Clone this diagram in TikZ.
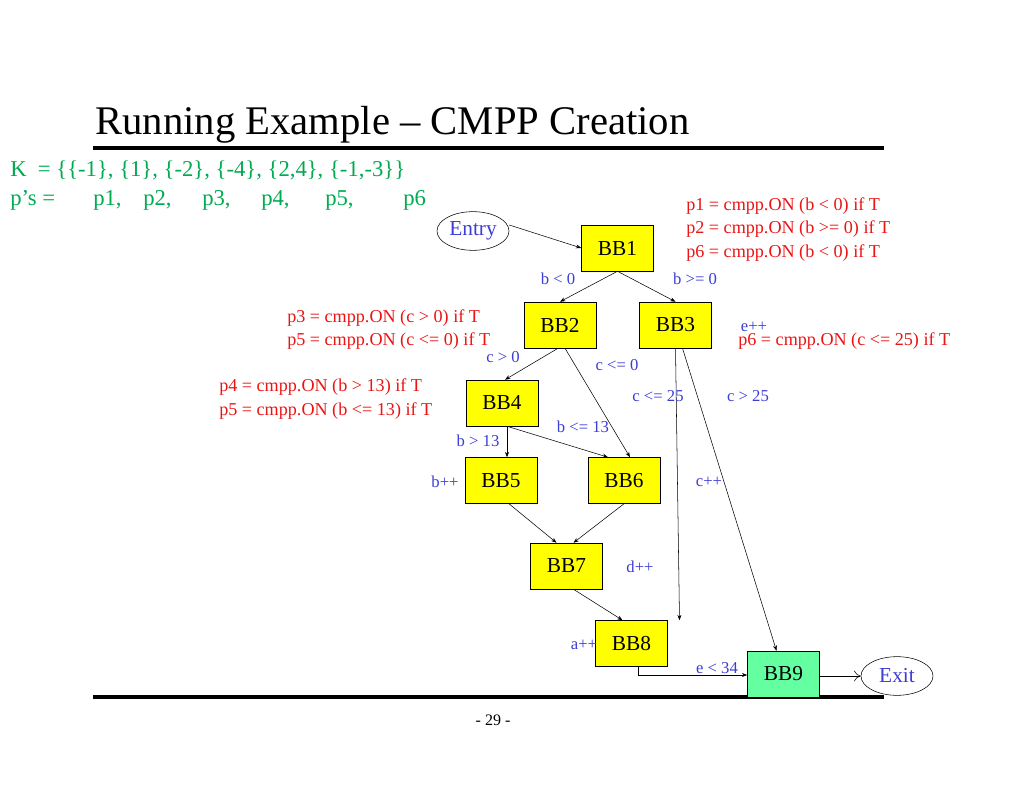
\documentclass[tikz,border=0pt]{standalone}
\usepackage{fontspec}
\setmainfont{Liberation Serif}
\usetikzlibrary{shapes.geometric,arrows.meta,calc}
\definecolor{tgreen}{RGB}{0,170,80}
\definecolor{tred}{RGB}{235,20,20}
\definecolor{tblue}{RGB}{60,60,215}
\definecolor{bbyellow}{RGB}{255,255,0}
\definecolor{bbgreen}{RGB}{100,255,160}
\tikzset{
  bb/.style={draw,fill=bbyellow,minimum width=54pt,minimum height=34.5pt,inner sep=0pt,font=\fontsize{16}{16}\selectfont},
  term/.style={draw,ellipse,minimum width=54pt,minimum height=29pt,inner sep=0pt,text=tblue,font=\fontsize{16}{16}\selectfont},
  lbl/.style={text=tblue,font=\fontsize{12.5}{12.5}\selectfont,inner sep=0pt},
  red/.style={text=tred,font=\fontsize{13.6}{13.6}\selectfont,inner sep=0pt,anchor=west},
  grn/.style={text=tgreen,font=\fontsize{17}{17}\selectfont,inner sep=0pt,anchor=west},
  edge/.style={-{Stealth[length=4pt,width=3pt]},thin}
}
\begin{document}
\begin{tikzpicture}[x=0.75pt,y=-0.75pt]
\useasboundingbox (0,0) rectangle (1024,791);
\node[anchor=base west,inner sep=0pt,font=\fontsize{30.5}{30.5}\selectfont] (title) at (95,135) {Running Example – CMPP Creation};
\draw[line width=3pt] (93,148) -- (884,148);
\draw[line width=3pt] (93,697) -- (884,697);
\node[inner sep=0pt,font=\fontsize{12}{12}\selectfont] (pg) at (493,720) {- 29 -};
\node[grn] (K) at (10,170) {K\ \ = \{\{-1\}, \{1\}, \{-2\}, \{-4\}, \{2,4\}, \{-1,-3\}\}};
\node[grn] (ps) at (10,200) {p’s =};
\node[grn] (q1) at (93,200) {p1,};
\node[grn] (q2) at (143,200) {p2,};
\node[grn] (q3) at (202,200) {p3,};
\node[grn] (q4) at (261,200) {p4,};
\node[grn] (q5) at (325,200) {p5,};
\node[grn] (q6) at (403,200) {p6};

\node[bb] (BB1) at (617.5,248) {BB1};
\node[bb] (BB2) at (560,325) {BB2};
\node[bb] (BB3) at (675.5,325) {BB3};
\node[bb] (BB4) at (502,403) {BB4};
\node[bb] (BB5) at (501,480.5) {BB5};
\node[bb] (BB6) at (624,480.5) {BB6};
\node[bb] (BB7) at (566.5,566) {BB7};
\node[bb] (BB8) at (631.5,643.5) {BB8};
\node[bb,fill=bbgreen] (BB9) at (783.5,674) {BB9};
\node[term] (Entry) at (473,231) {Entry};
\node[term] (Exit) at (897,676) {Exit};

\coordinate (c8) at (638,675);
\draw[edge] (Entry.east) ++(0,-6) -- (BB1.west |- 0,248);
\draw[edge] (BB1.south) -- (BB2.north);
\draw[edge] (BB1.south) -- (BB3.north);
\draw[edge] (BB2.south) ++(-2,0) -- ($(BB4.north)+(3,0)$);
\draw[edge] (BB2.south) ++(5,0) -- ($(BB6.north)+(6,0)$);
\draw[edge] (BB4.south) ++(5,0) -- ($(BB5.north)+(6,0)$);
\draw[edge] (BB4.south) ++(5,0) -- ($(BB6.north)-(16,0)$);
\draw[edge] (BB3.south) ++(0,0) -- ($(BB8.north)+(48,0)$);
\draw[edge] (BB3.south) ++(7,0) -- ($(BB9.north)-(7,0)$);
\draw[edge] (BB5.south) ++(8,0) -- ($(BB7.north)-(10,0)$);
\draw[edge] (BB6.south) -- ($(BB7.north)+(7,0)$);
\draw[edge] (BB7.south) ++(7,0) -- ($(BB8.north)-(9,0)$);
\draw[edge] (BB8.south -| c8) -- (c8) -- (BB9.west |- c8);
\draw[-{To[length=5pt,width=8pt]},thin] (BB9.east |- Exit) -- (Exit.west);

\node[lbl] (l1) at (558,279) {b < 0};
\node[lbl] (l2) at (695,279) {b >= 0};
\node[lbl] (l3) at (503,357) {c > 0};
\node[lbl] (l4) at (617,365) {c <= 0};
\node[lbl] (l5) at (658,396) {c <= 25};
\node[lbl] (l6) at (748,396) {c > 25};
\node[lbl] (l7) at (583,427) {b <= 13};
\node[lbl] (l8) at (478,441) {b > 13};
\node[lbl] (l9) at (445,482) {b++};
\node[lbl] (l10) at (709,482) {c++};
\node[lbl] (l11) at (640,567) {d++};
\node[lbl] (l12) at (584,645) {a++};
\node[lbl] (l13) at (717,668) {e < 34};
\node[lbl] (l14) at (754,327) {e++};

\node[red] (r1) at (686,206) {p1 = cmpp.ON (b < 0) if T};
\node[red] (r2) at (686,229) {p2 = cmpp.ON (b >= 0) if T};
\node[red] (r3) at (686,253) {p6 = cmpp.ON (b < 0) if T};
\node[red] (r4) at (738,341) {p6 = cmpp.ON (c <= 25) if T};
\node[red] (r5) at (287,318) {p3 = cmpp.ON (c > 0) if T};
\node[red] (r6) at (287,341) {p5 = cmpp.ON (c <= 0) if T};
\node[red] (r7) at (219,387) {p4 = cmpp.ON (b > 13) if T};
\node[red] (r8) at (219,411) {p5 = cmpp.ON (b <= 13) if T};
\end{tikzpicture}
\end{document}
